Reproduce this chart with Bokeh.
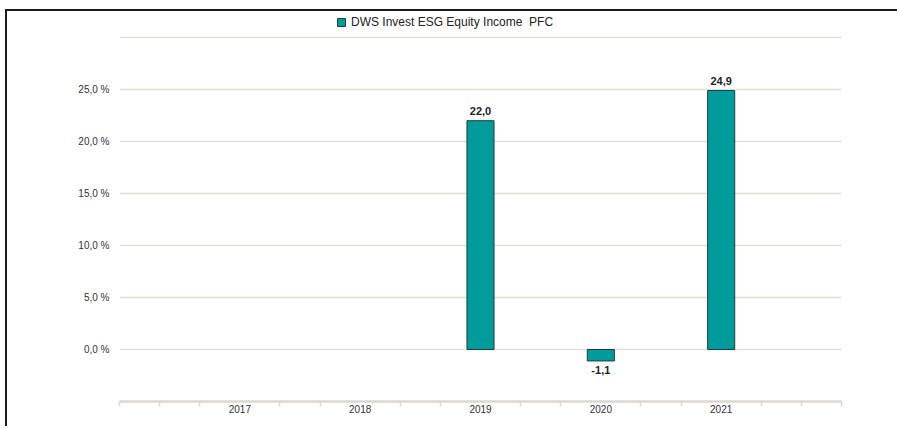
from bokeh.plotting import figure
from bokeh.models import Range1d, FixedTicker, Legend, LegendItem, ColumnDataSource
from bokeh.core.properties import value
from bokeh.embed import file_html
from bokeh.resources import INLINE

# ---- data ----
years = ["2017", "2018", "2019", "2020", "2021"]
returns = [None, None, 22.0, -1.1, 24.9]
series_name = "DWS Invest ESG Equity Income  PFC"
y_ticks = [0, 5, 10, 15, 20, 25]
y_grid = [0, 5, 10, 15, 20, 25, 30]

FONT = "Liberation Sans"
TEAL = "#009c9c"
EDGE = "#1f3d3d"

xs = [i for i, v in enumerate(returns) if v is not None]
vals = [v for v in returns if v is not None]
labels = [f"{v:.1f}".replace(".", ",") for v in vals]
pos = [v >= 0 for v in vals]

src_bar = ColumnDataSource(dict(x=xs, top=vals))
src_pos = ColumnDataSource(dict(x=[x for x, p_ in zip(xs, pos) if p_],
                                y=[v for v, p_ in zip(vals, pos) if p_],
                                t=[t for t, p_ in zip(labels, pos) if p_]))
src_neg = ColumnDataSource(dict(x=[x for x, p_ in zip(xs, pos) if not p_],
                                y=[v for v, p_ in zip(vals, pos) if not p_],
                                t=[t for t, p_ in zip(labels, pos) if not p_]))

W, H = 892, 417
p = figure(width=W, height=H, output_backend="svg", toolbar_location=None,
           x_range=Range1d(-1, 5), y_range=Range1d(-5, 32.5),
           min_border_left=112, min_border_right=58, min_border_top=0,
           min_border_bottom=27)
p.styles = {"margin-left": "5px", "margin-top": "9px",
            "border-left": "2px solid #1a1a1a", "border-top": "2px solid #1a1a1a"}
p.outline_line_color = None
p.background_fill_color = "white"
p.border_fill_color = "white"

# grid
p.xgrid.visible = False
p.ygrid.ticker = FixedTicker(ticks=y_grid)
p.ygrid.grid_line_color = "#e2dfd8"
p.ygrid.grid_line_width = 1.5

# y axis
p.yaxis.ticker = FixedTicker(ticks=y_ticks)
p.yaxis.major_label_overrides = {t: f"{t:.1f} %".replace(".", ",") for t in y_ticks}
p.yaxis.axis_line_color = None
p.yaxis.major_tick_line_color = None
p.yaxis.minor_tick_line_color = None
p.yaxis.major_label_standoff = 4
p.yaxis.major_label_text_font = FONT
p.yaxis.major_label_text_font_size = "10px"
p.yaxis.major_label_text_color = "#333333"

# x axis
minor = [i / 3 for i in range(-3, 16) if i % 3 != 0 or i in (-3, 15)]
p.xaxis.ticker = FixedTicker(ticks=list(range(len(years))), minor_ticks=minor)
p.xaxis.major_label_overrides = {i: y for i, y in enumerate(years)}
p.xaxis.axis_line_color = "#dcd8d0"
p.xaxis.axis_line_width = 2.5
p.xaxis.major_tick_line_color = None
p.xaxis.major_tick_out = 0
p.xaxis.major_tick_in = 0
p.xaxis.minor_tick_line_color = "#dcd8d0"
p.xaxis.minor_tick_line_width = 1.5
p.xaxis.minor_tick_out = 5
p.xaxis.minor_tick_in = 0
p.xaxis.major_label_standoff = -2
p.xaxis.major_label_text_font = FONT
p.xaxis.major_label_text_font_size = "10px"
p.xaxis.major_label_text_color = "#333333"

# bars
bars = p.vbar(x="x", top="top", bottom=0, width=0.225, source=src_bar,
              fill_color=TEAL, line_color=EDGE, line_width=1)

# value labels
p.text(x="x", y="y", text="t", source=src_pos, y_offset=-6,
       text_align="center", text_baseline="bottom",
       text_font=value(FONT), text_font_size="11px", text_font_style="bold",
       text_color="#222222")
p.text(x="x", y="y", text="t", source=src_neg, y_offset=5,
       text_align="center", text_baseline="top",
       text_font=value(FONT), text_font_size="11px", text_font_style="bold",
       text_color="#222222")

# legend
legend = Legend(items=[LegendItem(label=series_name, renderers=[bars])],
                location=(217, 372), orientation="horizontal",
                glyph_width=10, glyph_height=10, label_standoff=5,
                padding=0, margin=0, spacing=0,
                border_line_color=None, background_fill_alpha=0,
                label_text_font=FONT, label_text_font_size="12px",
                label_text_color="#222222")
p.add_layout(legend, "center")

open("out.html", "w").write(file_html(p, INLINE))
